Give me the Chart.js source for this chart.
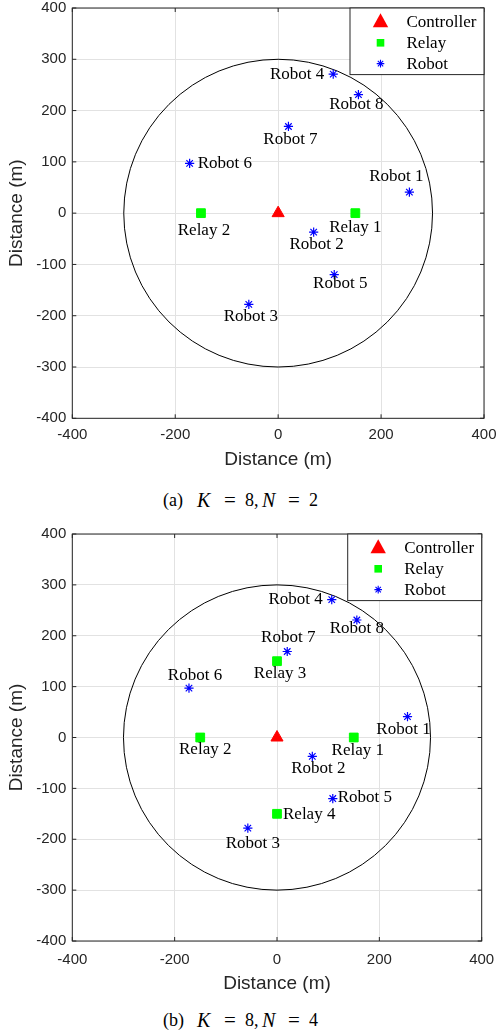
<!DOCTYPE html>
<html><head><meta charset="utf-8">
<script src="https://cdn.jsdelivr.net/npm/chart.js@4/dist/chart.umd.min.js"></script>
<style>
html,body{margin:0;padding:0;background:#fff;}
body{width:498px;height:1034px;position:relative;overflow:hidden;}
.wrap{position:absolute;left:0;width:498px;height:480px;}
.cap{position:absolute;left:0;width:498px;height:22px;font-family:"Liberation Serif","Times New Roman",serif;font-size:18px;color:#000;white-space:nowrap;line-height:22px;}
.cap span{position:absolute;top:0;}
.cap i{font-style:italic;font-size:20px;}
.cap .eq{font-size:21px;}
</style></head><body>
<div class="wrap" style="top:0"><canvas id="c1" width="498" height="480"></canvas></div>
<div class="wrap" style="top:526px"><canvas id="c2" width="498" height="480"></canvas></div>
<div class="cap" style="top:489px"><span style="left:163px">(a)</span><span style="left:197px"><i>K</i></span><span class="eq" style="left:224px">=</span><span style="left:245px">8,</span><span style="left:262px"><i>N</i></span><span class="eq" style="left:288px">=</span><span style="left:309px">2</span></div>
<div class="cap" style="top:1009px"><span style="left:163px">(b)</span><span style="left:197px"><i>K</i></span><span class="eq" style="left:224px">=</span><span style="left:245px">8,</span><span style="left:262px"><i>N</i></span><span class="eq" style="left:288px">=</span><span style="left:309px">4</span></div>
<script>
// ---------------- data ----------------
const axisTicksX = [-400, -200, 0, 200, 400];
const axisTicksY = [-400, -300, -200, -100, 0, 100, 200, 300, 400];
const axisTitle = 'Distance (m)';
const seriesNames = ['Controller', 'Relay', 'Robot'];

const controllerX = [0];
const controllerY = [0];

const relayXa = [150, -150];
const relayYa = [0, 0];
const relayXb = [150, -150, 0, 0];
const relayYb = [0, 0, 150, -150];
const relayNames = ['Relay 1', 'Relay 2', 'Relay 3', 'Relay 4'];

const robotX = [255, 69, -57, 107, 109, -172, 20, 156];
const robotY = [41, -37, -178, 271, -120, 97, 169, 231];
const robotNames = ['Robot 1', 'Robot 2', 'Robot 3', 'Robot 4', 'Robot 5', 'Robot 6', 'Robot 7', 'Robot 8'];

const coverageRadius = 300;

// ---------------- label layout (pixel offsets from marker, alignment) ----------------
const labelLayoutA = {
  robots: [[-13, -16, 'center'], [3, 12, 'center'], [2, 12, 'center'], [-9, 0, 'right'],
           [6, 9, 'center'], [8, 0, 'left'], [2, 13, 'center'], [-2, 10, 'center']],
  relays: [[0, 14, 'center'], [3, 17, 'center']]
};
const labelLayoutB = {
  robots: [[-4, 13, 'center'], [6, 12, 'center'], [5, 15, 'center'], [-9, 0, 'right'],
           [5, -1, 'left'], [6, -13, 'center'], [1, -14, 'center'], [0, 9, 'center']],
  relays: [[4, 13, 'center'], [5, 12, 'center'], [3, 12, 'center'], [6, 1, 'left']]
};

// ---------------- styles ----------------
const RED = '#ff0000', GREEN = '#00ff00', BLUE = '#0000ff';
const AXIS = '#262626';
const GRID = '#e2e2e2';
const SERIF = '"Liberation Serif", "Times New Roman", serif';
const SANS = '"Liberation Sans", Arial, Helvetica, sans-serif';

function pts(xs, ys) { return xs.map((x, i) => ({ x: x, y: ys[i] })); }

function drawMarker(ctx, kind, x, y, s) {
  ctx.save();
  if (kind === 0) {
    ctx.fillStyle = RED;
    ctx.beginPath();
    ctx.moveTo(x, y - s * 0.62);
    ctx.lineTo(x + s * 0.55, y + s * 0.38);
    ctx.lineTo(x - s * 0.55, y + s * 0.38);
    ctx.closePath();
    ctx.fill();
  } else if (kind === 1) {
    ctx.fillStyle = GREEN;
    ctx.fillRect(x - s * 0.4, y - s * 0.4, s * 0.8, s * 0.8);
  } else {
    ctx.strokeStyle = BLUE;
    ctx.lineWidth = 1.1;
    const r = s * 0.42, d = r * Math.SQRT1_2;
    ctx.beginPath();
    ctx.moveTo(x - r, y); ctx.lineTo(x + r, y);
    ctx.moveTo(x, y - r); ctx.lineTo(x, y + r);
    ctx.moveTo(x - d, y - d); ctx.lineTo(x + d, y + d);
    ctx.moveTo(x - d, y + d); ctx.lineTo(x + d, y - d);
    ctx.stroke();
  }
  ctx.restore();
}

function makeDecor(layout) {
  return {
    id: 'decor',
    beforeDatasetsDraw(chart) {
      const ctx = chart.ctx, xs = chart.scales.x, ys = chart.scales.y, a = chart.chartArea;
      const cx = xs.getPixelForValue(0), cy = ys.getPixelForValue(0);
      const rx = xs.getPixelForValue(coverageRadius) - cx;
      const ry = cy - ys.getPixelForValue(coverageRadius);
      ctx.save();
      ctx.beginPath(); ctx.rect(a.left, a.top, a.right - a.left, a.bottom - a.top); ctx.clip();
      ctx.strokeStyle = '#000'; ctx.lineWidth = 1;
      ctx.beginPath(); ctx.ellipse(cx, cy, rx, ry, 0, 0, Math.PI * 2); ctx.stroke();
      ctx.restore();
    },
    afterDatasetsDraw(chart) {
      const ctx = chart.ctx, xs = chart.scales.x, ys = chart.scales.y, a = chart.chartArea;
      // text labels
      ctx.save();
      ctx.font = '17px ' + SERIF;
      ctx.fillStyle = '#000';
      ctx.textBaseline = 'middle';
      const put = (meta, names, lay) => {
        meta.data.forEach((el, i) => {
          const o = lay[i];
          ctx.textAlign = o[2];
          ctx.fillText(names[i], el.x + o[0], el.y + o[1]);
        });
      };
      put(chart.getDatasetMeta(1), relayNames, layout.relays);
      put(chart.getDatasetMeta(2), robotNames, layout.robots);
      ctx.restore();

      // box + inward ticks
      ctx.save();
      ctx.strokeStyle = AXIS; ctx.lineWidth = 1;
      ctx.strokeRect(a.left, a.top, a.right - a.left, a.bottom - a.top);
      ctx.beginPath();
      const tl = 4;
      axisTicksX.forEach(v => {
        const p = xs.getPixelForValue(v);
        ctx.moveTo(p, a.bottom); ctx.lineTo(p, a.bottom - tl);
        ctx.moveTo(p, a.top); ctx.lineTo(p, a.top + tl);
      });
      axisTicksY.forEach(v => {
        const p = ys.getPixelForValue(v);
        ctx.moveTo(a.left, p); ctx.lineTo(a.left + tl, p);
        ctx.moveTo(a.right, p); ctx.lineTo(a.right - tl, p);
      });
      ctx.stroke();
      ctx.restore();

      // legend
      ctx.save();
      const w = 134, h = 66.6;
      const lx = a.right - w, ly = a.top;
      ctx.fillStyle = '#fff';
      ctx.fillRect(lx, ly, w, h);
      ctx.strokeStyle = AXIS; ctx.lineWidth = 1;
      ctx.strokeRect(lx, ly, w, h);
      ctx.font = '17px ' + SERIF;
      ctx.fillStyle = '#000';
      ctx.textAlign = 'left'; ctx.textBaseline = 'middle';
      seriesNames.forEach((n, i) => {
        const yy = ly + 14 + i * 20.8;
        drawMarker(ctx, i, lx + 30.5, yy, i === 0 ? 14 : (i === 1 ? 9.5 : 9));
        ctx.fillText(n, lx + 56.5, yy + 1);
      });
      ctx.restore();
    }
  };
}

function buildChart(id, relayX, relayY, layout, geom) {
  const tickFont = { family: SANS, size: 15 };
  const titleFont = { family: SANS, size: 19 };
  return new Chart(document.getElementById(id), {
    type: 'scatter',
    data: {
      datasets: [
        { label: seriesNames[0], data: pts(controllerX, controllerY), pointStyle: 'triangle',
          pointRadius: 7, backgroundColor: RED, borderColor: RED, borderWidth: 1 },
        { label: seriesNames[1], data: pts(relayX, relayY), pointStyle: 'rect',
          pointRadius: 6.2, backgroundColor: GREEN, borderColor: GREEN, borderWidth: 1 },
        { label: seriesNames[2], data: pts(robotX, robotY), pointStyle: 'star',
          pointRadius: 4.6, backgroundColor: BLUE, borderColor: BLUE, borderWidth: 1.2 }
      ]
    },
    options: {
      responsive: false,
      animation: false,
      devicePixelRatio: 1,
      events: [],
      layout: { padding: { top: geom.top, right: geom.right, left: 0, bottom: 0 } },
      plugins: { legend: { display: false }, tooltip: { enabled: false } },
      scales: {
        x: {
          type: 'linear', min: -400, max: 400,
          afterBuildTicks: s => { s.ticks = axisTicksX.map(v => ({ value: v })); },
          ticks: { font: tickFont, color: AXIS, padding: geom.xTickPad, maxRotation: 0, autoSkip: false },
          grid: { color: GRID, drawTicks: false, lineWidth: 1 },
          border: { display: false },
          title: { display: true, text: axisTitle, font: titleFont, color: AXIS, padding: { top: 0, bottom: geom.xTitlePad } },
          afterFit: s => { s.height = geom.xH; s.paddingLeft = 0; s.paddingRight = 0; }
        },
        y: {
          type: 'linear', min: -400, max: 400,
          afterBuildTicks: s => { s.ticks = axisTicksY.map(v => ({ value: v })); },
          ticks: { font: tickFont, color: AXIS, padding: 6, autoSkip: false },
          grid: { color: GRID, drawTicks: false, lineWidth: 1 },
          border: { display: false },
          title: { display: true, text: axisTitle, font: titleFont, color: AXIS, padding: { top: 5.5, bottom: 0 } },
          afterFit: s => { s.width = 72.3; s.paddingTop = 0; s.paddingBottom = 0; }
        }
      }
    },
    plugins: [makeDecor(layout)]
  });
}

buildChart('c1', relayXa, relayYa, labelLayoutA, { top: 6.6, right: 14, xH: 61.7, xTickPad: 8, xTitlePad: 8.6 });
buildChart('c2', relayXb, relayYb, labelLayoutB, { top: 6.7, right: 16.3, xH: 65, xTickPad: 9.5, xTitlePad: 10.6 });
</script>
</body></html>
